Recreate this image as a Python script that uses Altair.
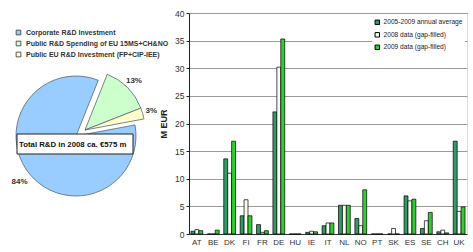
import math
import altair as alt
import pandas as pd

# ---------------- data ----------------
pie_labels = ["Corporate R&D Investment",
              "Public R&D Spending of EU 15MS+CH&NO",
              "Public EU R&D Investment (FP+CIP-IEE)"]
pie_values = [84, 13, 3]
pie_order = [3, 1, 2]          # drawing order clockwise
pie_colors = ["#99ccff", "#ccffcc", "#ffffcc"]
total_text = ["Total R&D in 2008 ca. €575 m"]

countries = ["AT", "BE", "DK", "FI", "FR", "DE", "HU", "IE", "IT", "NL",
             "NO", "PT", "SK", "ES", "SE", "CH", "UK"]
series_names = ["2005-2009 annual average", "2008 data (gap-filled)", "2009 data (gap-filled)"]
avg_vals  = [0.5, 0.0, 13.6, 3.3, 1.7, 22.1, 0.0, 0.3, 1.5, 5.2, 2.8, 0.0, 0.0, 6.9, 1.0, 0.4, 16.8]
y2008_vals = [0.8, 0.0, 11.0, 6.2, 0.3, 30.2, 0.0, 0.5, 2.0, 5.2, 1.5, 0.0, 1.0, 6.0, 2.4, 0.7, 4.1]
y2009_vals = [0.6, 0.7, 16.8, 3.3, 0.6, 35.3, 0.0, 0.4, 2.0, 5.2, 8.0, 0.0, 0.0, 6.3, 3.9, 0.2, 4.9]
bar_colors = ["#339966", "#f4fff0", "#33cc33"]
y_ticks = [0, 5, 10, 15, 20, 25, 30, 35, 40]

# ---------------- tables ----------------
pie_df = pd.DataFrame({"label": pie_labels, "value": pie_values, "order": pie_order})
rows = []
for i, c in enumerate(countries):
    for s, vals in zip(series_names, [avg_vals, y2008_vals, y2009_vals]):
        rows.append({"country": c, "series": s, "value": vals[i]})
bar_df = pd.DataFrame(rows)
box_df = pd.DataFrame({"t": total_text})

FONT = "Liberation Sans"
start = 0.38
theta_scale = alt.Scale(domain=[0, 100], range=[start, start + 2 * math.pi])
pie_color = alt.Color("label:N", scale=alt.Scale(domain=pie_labels, range=pie_colors),
                      title=None,
                      legend=alt.Legend(orient="none", legendX=-174, legendY=16,
                                        symbolType="square", symbolSize=22,
                                        symbolStrokeColor="#333", symbolStrokeWidth=0.8,
                                        labelFontSize=7, labelFontWeight="bold",
                                        labelColor="#333", rowPadding=2, padding=0,
                                        labelLimit=300))

# pie centre (view coords)
CX, CY = -113, 123
EX, EY = -104, 117

base = (alt.Chart(pie_df)
        .transform_window(cum="sum(value)", sort=[alt.SortField("order")])
        .transform_calculate(start="datum.cum - datum.value",
                             mid="datum.cum - datum.value/2",
                             pct="datum.value + '%'"))

pieA = base.transform_filter("datum.order == 3").mark_arc(
    radius=60, stroke="#556677", strokeWidth=0.8).encode(
    theta=alt.Theta("start:Q", scale=theta_scale), theta2="cum:Q",
    color=pie_color, x=alt.value(CX), y=alt.value(CY))
pieB = base.transform_filter("datum.order != 3").mark_arc(
    radius=60, stroke="#556677", strokeWidth=0.8).encode(
    theta=alt.Theta("start:Q", scale=theta_scale), theta2="cum:Q",
    color=pie_color, x=alt.value(EX), y=alt.value(EY))
txtA = base.transform_filter("datum.order == 3").mark_text(
    radius=73, fontSize=8, fontWeight="bold", color="#333", font=FONT).encode(
    theta=alt.Theta("mid:Q", scale=theta_scale, stack=False), text="pct:N",
    x=alt.value(CX), y=alt.value(CY))
txtB = base.transform_filter("datum.order != 3").mark_text(
    radius=69, fontSize=8, fontWeight="bold", color="#333", font=FONT).encode(
    theta=alt.Theta("mid:Q", scale=theta_scale, stack=False), text="pct:N",
    x=alt.value(EX), y=alt.value(EY))

box = alt.Chart(box_df).mark_rect(fill="white", stroke="#222", strokeWidth=1).encode(
    x=alt.value(-172), x2=alt.value(-56), y=alt.value(121), y2=alt.value(141))
box_txt = alt.Chart(box_df).mark_text(align="left", baseline="middle", fontSize=7.8,
                                      fontWeight="bold", color="#111", font=FONT).encode(
    x=alt.value(-170), y=alt.value(131.5), text="t:N")

pie = alt.layer(pieA, pieB, txtA, txtB, box, box_txt)

bars = alt.Chart(bar_df).mark_bar(stroke="black", strokeWidth=0.7).encode(
    x=alt.X("country:N", sort=countries, title=None,
            scale=alt.Scale(paddingInner=0.28, paddingOuter=0.12),
            axis=alt.Axis(labelFontSize=8, labelColor="#333", labelAngle=0,
                          ticks=False, domainColor="#333", labelPadding=4,
                          labelFont=FONT)),
    xOffset=alt.XOffset("series:N", sort=series_names),
    y=alt.Y("value:Q", scale=alt.Scale(domain=[0, 40]), title="M EUR",
            axis=alt.Axis(values=y_ticks, labelFontSize=8.5, labelColor="#333",
                          gridColor="#9a9a9a", domainColor="#222", tickColor="#222",
                          tickSize=3, titleFontSize=9, titleFontWeight="bold",
                          titleColor="#222", titlePadding=6, labelFont=FONT,
                          titleFont=FONT)),
    color=alt.Color("series:N", scale=alt.Scale(domain=series_names, range=bar_colors),
                    title=None,
                    legend=alt.Legend(orient="none", legendX=183, legendY=4,
                                      symbolType="square", symbolSize=20,
                                      symbolStrokeColor="black", symbolStrokeWidth=1,
                                      labelFontSize=6.6, labelColor="#222",
                                      labelOffset=3,
                                      rowPadding=3.5, padding=2, fillColor="white",
                                      labelFont=FONT, labelLimit=300)),
)

chart = alt.layer(pie, bars).resolve_scale(color="independent").properties(
    width=278, height=221,
    autosize=alt.AutoSizeParams(type="none"),
    padding={"left": 189, "top": 13, "right": 6, "bottom": 18},
    background="white",
).configure_view(stroke="#222", strokeWidth=1).configure(font=FONT)

chart.save("out.html", embed_options={"renderer": "svg", "actions": False})
